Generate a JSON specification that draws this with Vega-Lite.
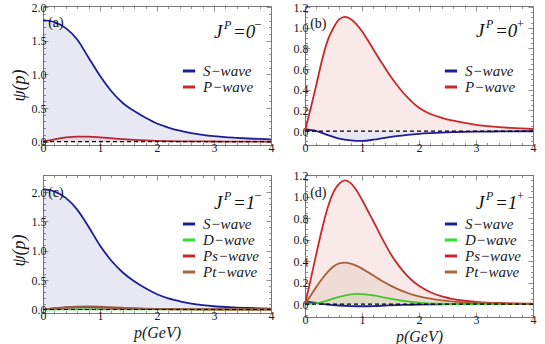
{
"$schema":"https://vega.github.io/schema/vega-lite/v6.json",
"padding":{"left":9,"top":0,"right":5,"bottom":0},
"columns":2,
"spacing":{"row":30,"column":34},
"bounds":"flush",
"resolve":{"scale":{"fill":"independent","stroke":"independent"},"legend":{"fill":"independent","stroke":"independent"}},
"datasets":{
"a":[
{"p":0,"psi":1.81,"wave":"S−wave"},{"p":0.2,"psi":1.78,"wave":"S−wave"},{"p":0.4,"psi":1.69,"wave":"S−wave"},{"p":0.6,"psi":1.52,"wave":"S−wave"},{"p":0.8,"psi":1.25,"wave":"S−wave"},{"p":1,"psi":0.98,"wave":"S−wave"},{"p":1.2,"psi":0.75,"wave":"S−wave"},{"p":1.4,"psi":0.575,"wave":"S−wave"},{"p":1.6,"psi":0.455,"wave":"S−wave"},{"p":1.8,"psi":0.355,"wave":"S−wave"},{"p":2,"psi":0.27,"wave":"S−wave"},{"p":2.2,"psi":0.21,"wave":"S−wave"},{"p":2.4,"psi":0.163,"wave":"S−wave"},{"p":2.6,"psi":0.128,"wave":"S−wave"},{"p":2.8,"psi":0.102,"wave":"S−wave"},{"p":3,"psi":0.082,"wave":"S−wave"},{"p":3.2,"psi":0.067,"wave":"S−wave"},{"p":3.4,"psi":0.056,"wave":"S−wave"},{"p":3.6,"psi":0.047,"wave":"S−wave"},{"p":3.8,"psi":0.04,"wave":"S−wave"},{"p":4,"psi":0.035,"wave":"S−wave"},
{"p":0,"psi":0,"wave":"P−wave"},{"p":0.2,"psi":0.035,"wave":"P−wave"},{"p":0.4,"psi":0.062,"wave":"P−wave"},{"p":0.6,"psi":0.076,"wave":"P−wave"},{"p":0.8,"psi":0.075,"wave":"P−wave"},{"p":1,"psi":0.065,"wave":"P−wave"},{"p":1.2,"psi":0.051,"wave":"P−wave"},{"p":1.4,"psi":0.037,"wave":"P−wave"},{"p":1.6,"psi":0.026,"wave":"P−wave"},{"p":1.8,"psi":0.018,"wave":"P−wave"},{"p":2,"psi":0.012,"wave":"P−wave"},{"p":2.2,"psi":0.008,"wave":"P−wave"},{"p":2.4,"psi":0.005,"wave":"P−wave"},{"p":2.6,"psi":0.0035,"wave":"P−wave"},{"p":2.8,"psi":0.0025,"wave":"P−wave"},{"p":3,"psi":0.0018,"wave":"P−wave"},{"p":3.2,"psi":0.0013,"wave":"P−wave"},{"p":3.4,"psi":0.001,"wave":"P−wave"},{"p":3.6,"psi":0.0007,"wave":"P−wave"},{"p":3.8,"psi":0.0005,"wave":"P−wave"},{"p":4,"psi":0.0004,"wave":"P−wave"}
],
"b":[
{"p":0,"psi":0.015,"wave":"S−wave"},{"p":0.2,"psi":0,"wave":"S−wave"},{"p":0.4,"psi":-0.04,"wave":"S−wave"},{"p":0.6,"psi":-0.073,"wave":"S−wave"},{"p":0.8,"psi":-0.09,"wave":"S−wave"},{"p":1,"psi":-0.095,"wave":"S−wave"},{"p":1.2,"psi":-0.084,"wave":"S−wave"},{"p":1.4,"psi":-0.066,"wave":"S−wave"},{"p":1.6,"psi":-0.05,"wave":"S−wave"},{"p":1.8,"psi":-0.037,"wave":"S−wave"},{"p":2,"psi":-0.027,"wave":"S−wave"},{"p":2.2,"psi":-0.02,"wave":"S−wave"},{"p":2.4,"psi":-0.015,"wave":"S−wave"},{"p":2.6,"psi":-0.011,"wave":"S−wave"},{"p":2.8,"psi":-0.008,"wave":"S−wave"},{"p":3,"psi":-0.006,"wave":"S−wave"},{"p":3.2,"psi":-0.005,"wave":"S−wave"},{"p":3.4,"psi":-0.004,"wave":"S−wave"},{"p":3.6,"psi":-0.003,"wave":"S−wave"},{"p":3.8,"psi":-0.002,"wave":"S−wave"},{"p":4,"psi":-0.002,"wave":"S−wave"},
{"p":0,"psi":0,"wave":"P−wave"},{"p":0.1,"psi":0.22,"wave":"P−wave"},{"p":0.2,"psi":0.45,"wave":"P−wave"},{"p":0.3,"psi":0.69,"wave":"P−wave"},{"p":0.4,"psi":0.88,"wave":"P−wave"},{"p":0.5,"psi":1.0,"wave":"P−wave"},{"p":0.6,"psi":1.08,"wave":"P−wave"},{"p":0.7,"psi":1.105,"wave":"P−wave"},{"p":0.8,"psi":1.085,"wave":"P−wave"},{"p":0.9,"psi":1.035,"wave":"P−wave"},{"p":1,"psi":0.965,"wave":"P−wave"},{"p":1.1,"psi":0.88,"wave":"P−wave"},{"p":1.2,"psi":0.79,"wave":"P−wave"},{"p":1.3,"psi":0.7,"wave":"P−wave"},{"p":1.4,"psi":0.615,"wave":"P−wave"},{"p":1.5,"psi":0.53,"wave":"P−wave"},{"p":1.6,"psi":0.455,"wave":"P−wave"},{"p":1.7,"psi":0.385,"wave":"P−wave"},{"p":1.8,"psi":0.325,"wave":"P−wave"},{"p":1.9,"psi":0.27,"wave":"P−wave"},{"p":2,"psi":0.225,"wave":"P−wave"},{"p":2.2,"psi":0.165,"wave":"P−wave"},{"p":2.4,"psi":0.128,"wave":"P−wave"},{"p":2.6,"psi":0.1,"wave":"P−wave"},{"p":2.8,"psi":0.078,"wave":"P−wave"},{"p":3,"psi":0.06,"wave":"P−wave"},{"p":3.2,"psi":0.048,"wave":"P−wave"},{"p":3.4,"psi":0.038,"wave":"P−wave"},{"p":3.6,"psi":0.031,"wave":"P−wave"},{"p":3.8,"psi":0.025,"wave":"P−wave"},{"p":4,"psi":0.02,"wave":"P−wave"}
],
"c":[
{"p":0,"psi":2.05,"wave":"S−wave"},{"p":0.2,"psi":2.01,"wave":"S−wave"},{"p":0.4,"psi":1.9,"wave":"S−wave"},{"p":0.6,"psi":1.7,"wave":"S−wave"},{"p":0.8,"psi":1.41,"wave":"S−wave"},{"p":1,"psi":1.09,"wave":"S−wave"},{"p":1.2,"psi":0.83,"wave":"S−wave"},{"p":1.4,"psi":0.63,"wave":"S−wave"},{"p":1.6,"psi":0.48,"wave":"S−wave"},{"p":1.8,"psi":0.36,"wave":"S−wave"},{"p":2,"psi":0.26,"wave":"S−wave"},{"p":2.2,"psi":0.19,"wave":"S−wave"},{"p":2.4,"psi":0.14,"wave":"S−wave"},{"p":2.6,"psi":0.1,"wave":"S−wave"},{"p":2.8,"psi":0.074,"wave":"S−wave"},{"p":3,"psi":0.055,"wave":"S−wave"},{"p":3.2,"psi":0.042,"wave":"S−wave"},{"p":3.4,"psi":0.032,"wave":"S−wave"},{"p":3.6,"psi":0.025,"wave":"S−wave"},{"p":3.8,"psi":0.019,"wave":"S−wave"},{"p":4,"psi":0.015,"wave":"S−wave"},
{"p":0,"psi":0,"wave":"D−wave"},{"p":0.4,"psi":0.001,"wave":"D−wave"},{"p":0.8,"psi":0.002,"wave":"D−wave"},{"p":1.2,"psi":0.002,"wave":"D−wave"},{"p":1.6,"psi":0.001,"wave":"D−wave"},{"p":2,"psi":0.0005,"wave":"D−wave"},{"p":3,"psi":0,"wave":"D−wave"},{"p":4,"psi":0,"wave":"D−wave"},
{"p":0,"psi":0,"wave":"Ps−wave"},{"p":0.2,"psi":0.018,"wave":"Ps−wave"},{"p":0.4,"psi":0.032,"wave":"Ps−wave"},{"p":0.6,"psi":0.04,"wave":"Ps−wave"},{"p":0.8,"psi":0.04,"wave":"Ps−wave"},{"p":1,"psi":0.035,"wave":"Ps−wave"},{"p":1.2,"psi":0.027,"wave":"Ps−wave"},{"p":1.4,"psi":0.02,"wave":"Ps−wave"},{"p":1.6,"psi":0.014,"wave":"Ps−wave"},{"p":1.8,"psi":0.009,"wave":"Ps−wave"},{"p":2,"psi":0.006,"wave":"Ps−wave"},{"p":2.4,"psi":0.003,"wave":"Ps−wave"},{"p":2.8,"psi":0.001,"wave":"Ps−wave"},{"p":3.4,"psi":0,"wave":"Ps−wave"},{"p":4,"psi":0,"wave":"Ps−wave"},
{"p":0,"psi":0,"wave":"Pt−wave"},{"p":0.2,"psi":0.022,"wave":"Pt−wave"},{"p":0.4,"psi":0.04,"wave":"Pt−wave"},{"p":0.6,"psi":0.05,"wave":"Pt−wave"},{"p":0.8,"psi":0.052,"wave":"Pt−wave"},{"p":1,"psi":0.047,"wave":"Pt−wave"},{"p":1.2,"psi":0.038,"wave":"Pt−wave"},{"p":1.4,"psi":0.029,"wave":"Pt−wave"},{"p":1.6,"psi":0.021,"wave":"Pt−wave"},{"p":1.8,"psi":0.015,"wave":"Pt−wave"},{"p":2,"psi":0.011,"wave":"Pt−wave"},{"p":2.4,"psi":0.006,"wave":"Pt−wave"},{"p":2.8,"psi":0.003,"wave":"Pt−wave"},{"p":3.2,"psi":0.0015,"wave":"Pt−wave"},{"p":3.6,"psi":0.001,"wave":"Pt−wave"},{"p":4,"psi":0.0005,"wave":"Pt−wave"}
],
"d":[
{"p":0,"psi":0.025,"wave":"S−wave"},{"p":0.2,"psi":0.01,"wave":"S−wave"},{"p":0.4,"psi":-0.004,"wave":"S−wave"},{"p":0.6,"psi":-0.013,"wave":"S−wave"},{"p":0.8,"psi":-0.018,"wave":"S−wave"},{"p":1,"psi":-0.02,"wave":"S−wave"},{"p":1.2,"psi":-0.018,"wave":"S−wave"},{"p":1.4,"psi":-0.014,"wave":"S−wave"},{"p":1.6,"psi":-0.01,"wave":"S−wave"},{"p":1.8,"psi":-0.007,"wave":"S−wave"},{"p":2,"psi":-0.004,"wave":"S−wave"},{"p":2.4,"psi":-0.002,"wave":"S−wave"},{"p":2.8,"psi":-0.001,"wave":"S−wave"},{"p":3.4,"psi":0,"wave":"S−wave"},{"p":4,"psi":0,"wave":"S−wave"},
{"p":0,"psi":0,"wave":"D−wave"},{"p":0.2,"psi":0.008,"wave":"D−wave"},{"p":0.4,"psi":0.035,"wave":"D−wave"},{"p":0.6,"psi":0.068,"wave":"D−wave"},{"p":0.8,"psi":0.09,"wave":"D−wave"},{"p":0.9,"psi":0.095,"wave":"D−wave"},{"p":1,"psi":0.093,"wave":"D−wave"},{"p":1.2,"psi":0.081,"wave":"D−wave"},{"p":1.4,"psi":0.061,"wave":"D−wave"},{"p":1.6,"psi":0.041,"wave":"D−wave"},{"p":1.8,"psi":0.025,"wave":"D−wave"},{"p":2,"psi":0.013,"wave":"D−wave"},{"p":2.2,"psi":0.006,"wave":"D−wave"},{"p":2.4,"psi":0.003,"wave":"D−wave"},{"p":2.6,"psi":0.001,"wave":"D−wave"},{"p":3,"psi":0,"wave":"D−wave"},{"p":4,"psi":0,"wave":"D−wave"},
{"p":0,"psi":0,"wave":"Ps−wave"},{"p":0.1,"psi":0.23,"wave":"Ps−wave"},{"p":0.2,"psi":0.47,"wave":"Ps−wave"},{"p":0.3,"psi":0.7,"wave":"Ps−wave"},{"p":0.4,"psi":0.9,"wave":"Ps−wave"},{"p":0.5,"psi":1.04,"wave":"Ps−wave"},{"p":0.6,"psi":1.12,"wave":"Ps−wave"},{"p":0.7,"psi":1.15,"wave":"Ps−wave"},{"p":0.8,"psi":1.125,"wave":"Ps−wave"},{"p":0.9,"psi":1.06,"wave":"Ps−wave"},{"p":1,"psi":0.97,"wave":"Ps−wave"},{"p":1.1,"psi":0.87,"wave":"Ps−wave"},{"p":1.2,"psi":0.77,"wave":"Ps−wave"},{"p":1.3,"psi":0.665,"wave":"Ps−wave"},{"p":1.4,"psi":0.565,"wave":"Ps−wave"},{"p":1.5,"psi":0.47,"wave":"Ps−wave"},{"p":1.6,"psi":0.39,"wave":"Ps−wave"},{"p":1.7,"psi":0.32,"wave":"Ps−wave"},{"p":1.8,"psi":0.26,"wave":"Ps−wave"},{"p":1.9,"psi":0.21,"wave":"Ps−wave"},{"p":2,"psi":0.17,"wave":"Ps−wave"},{"p":2.2,"psi":0.11,"wave":"Ps−wave"},{"p":2.4,"psi":0.072,"wave":"Ps−wave"},{"p":2.6,"psi":0.047,"wave":"Ps−wave"},{"p":2.8,"psi":0.031,"wave":"Ps−wave"},{"p":3,"psi":0.021,"wave":"Ps−wave"},{"p":3.2,"psi":0.014,"wave":"Ps−wave"},{"p":3.4,"psi":0.01,"wave":"Ps−wave"},{"p":3.6,"psi":0.007,"wave":"Ps−wave"},{"p":3.8,"psi":0.005,"wave":"Ps−wave"},{"p":4,"psi":0.004,"wave":"Ps−wave"},
{"p":0,"psi":0,"wave":"Pt−wave"},{"p":0.1,"psi":0.08,"wave":"Pt−wave"},{"p":0.2,"psi":0.16,"wave":"Pt−wave"},{"p":0.3,"psi":0.235,"wave":"Pt−wave"},{"p":0.4,"psi":0.3,"wave":"Pt−wave"},{"p":0.5,"psi":0.35,"wave":"Pt−wave"},{"p":0.6,"psi":0.378,"wave":"Pt−wave"},{"p":0.7,"psi":0.385,"wave":"Pt−wave"},{"p":0.8,"psi":0.377,"wave":"Pt−wave"},{"p":0.9,"psi":0.357,"wave":"Pt−wave"},{"p":1,"psi":0.33,"wave":"Pt−wave"},{"p":1.1,"psi":0.298,"wave":"Pt−wave"},{"p":1.2,"psi":0.265,"wave":"Pt−wave"},{"p":1.3,"psi":0.232,"wave":"Pt−wave"},{"p":1.4,"psi":0.2,"wave":"Pt−wave"},{"p":1.5,"psi":0.172,"wave":"Pt−wave"},{"p":1.6,"psi":0.146,"wave":"Pt−wave"},{"p":1.7,"psi":0.123,"wave":"Pt−wave"},{"p":1.8,"psi":0.103,"wave":"Pt−wave"},{"p":1.9,"psi":0.086,"wave":"Pt−wave"},{"p":2,"psi":0.072,"wave":"Pt−wave"},{"p":2.2,"psi":0.05,"wave":"Pt−wave"},{"p":2.4,"psi":0.034,"wave":"Pt−wave"},{"p":2.6,"psi":0.023,"wave":"Pt−wave"},{"p":2.8,"psi":0.016,"wave":"Pt−wave"},{"p":3,"psi":0.011,"wave":"Pt−wave"},{"p":3.2,"psi":0.008,"wave":"Pt−wave"},{"p":3.4,"psi":0.006,"wave":"Pt−wave"},{"p":3.6,"psi":0.004,"wave":"Pt−wave"},{"p":3.8,"psi":0.003,"wave":"Pt−wave"},{"p":4,"psi":0.002,"wave":"Pt−wave"}
]
},
"concat":[
{
"width":228,"height":139,
"data":{"name":"a"},
"layer":[
{"mark":{"type":"line","strokeWidth":1.8,"interpolate":"monotone"},
"encoding":{
"x":{"field":"p","type":"quantitative","scale":{"domain":[0,4],"nice":false},"axis":{"orient":"bottom","title":null,"values":[0,0.2,0.4,0.6,0.8,1,1.2,1.4,1.6,1.8,2,2.2,2.4,2.6,2.8,3,3.2,3.4,3.6,3.8,4],"labelExpr":"datum.value % 1 === 0 ? format(datum.value,'d') : ''","tickSize":{"condition":{"test":"datum.value % 1 === 0","value":-5},"value":-2.5},"labelPadding":2}},
"y":{"field":"psi","type":"quantitative","scale":{"domain":[-0.05,2.02],"nice":false,"zero":false},"axis":{"orient":"left","title":"ψ(p)","titlePadding":3,"titleFontSize":18,"titleY":79,"values":[0,0.1,0.2,0.3,0.4,0.5,0.6,0.7,0.8,0.9,1,1.1,1.2,1.3,1.4,1.5,1.6,1.7,1.8,1.9,2],"labelExpr":"abs(datum.value*2-round(datum.value*2))<0.001 ? format(datum.value,'.1f') : ''","tickSize":{"condition":{"test":"abs(datum.value*2-round(datum.value*2))<0.001","value":-5},"value":-2.5},"labelPadding":2}},
"stroke":{"field":"wave","type":"nominal","scale":{"domain":["S−wave","P−wave"],"range":["#1e1e96","#c62b2b"]},"legend":{"orient":"none","legendX":138,"legendY":57,"title":null}}}},
{"mark":{"type":"area","fillOpacity":0.1,"interpolate":"monotone"},
"encoding":{"x":{"field":"p","type":"quantitative","axis":null},"y":{"field":"psi","type":"quantitative","axis":null},"y2":{"datum":0},
"fill":{"field":"wave","type":"nominal","scale":{"domain":["S−wave","P−wave"],"range":["#1e1e96","#c62b2b"]},"legend":null}}},
{"mark":{"type":"point","opacity":0},
"encoding":{"x":{"field":"p","type":"quantitative","axis":{"orient":"top","title":null,"labels":false,"values":[0,0.2,0.4,0.6,0.8,1,1.2,1.4,1.6,1.8,2,2.2,2.4,2.6,2.8,3,3.2,3.4,3.6,3.8,4],"tickSize":{"condition":{"test":"datum.value % 1 === 0","value":-5},"value":-2.5}}},
"y":{"field":"psi","type":"quantitative","axis":{"orient":"right","title":null,"labels":false,"values":[0,0.1,0.2,0.3,0.4,0.5,0.6,0.7,0.8,0.9,1,1.1,1.2,1.3,1.4,1.5,1.6,1.7,1.8,1.9,2],"tickSize":{"condition":{"test":"abs(datum.value*2-round(datum.value*2))<0.001","value":-5},"value":-2.5}}}}},
{"data":{"values":[{}]},"mark":{"type":"rule","strokeDash":[4,3],"color":"#000","strokeWidth":1.2},"encoding":{"y":{"datum":0,"type":"quantitative","axis":null}}},
{"data":{"values":[{}]},"mark":{"type":"text","font":"Liberation Serif","fontSize":14,"align":"left","color":"#111"},"encoding":{"x":{"datum":0.09,"type":"quantitative","axis":null},"y":{"datum":1.77,"type":"quantitative","axis":null},"text":{"value":"(a)"}}},
{"data":{"values":[{}]},"mark":{"type":"text","font":"Liberation Serif","fontStyle":"italic","fontSize":19,"align":"left","color":"#111"},"encoding":{"x":{"datum":3.0,"type":"quantitative","axis":null},"y":{"datum":1.64,"type":"quantitative","axis":null},"text":{"value":"J"}}},
{"data":{"values":[{}]},"mark":{"type":"text","font":"Liberation Serif","fontStyle":"italic","fontSize":12,"align":"left","dx":10,"dy":-7,"color":"#111"},"encoding":{"x":{"datum":3.0,"type":"quantitative","axis":null},"y":{"datum":1.64,"type":"quantitative","axis":null},"text":{"value":"P"}}},
{"data":{"values":[{}]},"mark":{"type":"text","font":"Liberation Serif","fontStyle":"italic","fontSize":19,"align":"left","dx":19,"color":"#111"},"encoding":{"x":{"datum":3.0,"type":"quantitative","axis":null},"y":{"datum":1.64,"type":"quantitative","axis":null},"text":{"value":"=0"}}},
{"data":{"values":[{}]},"mark":{"type":"text","font":"Liberation Serif","fontSize":13,"align":"left","dx":40,"dy":-7,"color":"#111"},"encoding":{"x":{"datum":3.0,"type":"quantitative","axis":null},"y":{"datum":1.64,"type":"quantitative","axis":null},"text":{"value":"−"}}}
],
"resolve":{"axis":{"x":"independent","y":"independent"}}
},
{
"width":228,"height":139,
"data":{"name":"b"},
"layer":[
{"mark":{"type":"line","strokeWidth":1.8,"interpolate":"monotone"},
"encoding":{
"x":{"field":"p","type":"quantitative","scale":{"domain":[0,4],"nice":false},"axis":{"orient":"bottom","title":null,"values":[0,0.2,0.4,0.6,0.8,1,1.2,1.4,1.6,1.8,2,2.2,2.4,2.6,2.8,3,3.2,3.4,3.6,3.8,4],"labelExpr":"datum.value % 1 === 0 ? format(datum.value,'d') : ''","tickSize":{"condition":{"test":"datum.value % 1 === 0","value":-5},"value":-2.5},"labelPadding":2}},
"y":{"field":"psi","type":"quantitative","scale":{"domain":[-0.135,1.21],"nice":false,"zero":false},"axis":{"orient":"left","title":null,"values":[-0.1,-0.05,0,0.05,0.1,0.15,0.2,0.25,0.3,0.35,0.4,0.45,0.5,0.55,0.6,0.65,0.7,0.75,0.8,0.85,0.9,0.95,1,1.05,1.1,1.15,1.2],"labelExpr":"abs(datum.value*5-round(datum.value*5))<0.001 && datum.value>=0 ? format(datum.value,'.1f') : ''","tickSize":{"condition":{"test":"abs(datum.value*5-round(datum.value*5))<0.001","value":-5},"value":-2.5},"labelPadding":2}},
"stroke":{"field":"wave","type":"nominal","scale":{"domain":["S−wave","P−wave"],"range":["#1e1e96","#c62b2b"]},"legend":{"orient":"none","legendX":138,"legendY":57,"title":null}}}},
{"mark":{"type":"area","fillOpacity":0.1,"interpolate":"monotone"},
"encoding":{"x":{"field":"p","type":"quantitative","axis":null},"y":{"field":"psi","type":"quantitative","axis":null},"y2":{"datum":0},
"fill":{"field":"wave","type":"nominal","scale":{"domain":["S−wave","P−wave"],"range":["#1e1e96","#c62b2b"]},"legend":null}}},
{"mark":{"type":"point","opacity":0},
"encoding":{"x":{"field":"p","type":"quantitative","axis":{"orient":"top","title":null,"labels":false,"values":[0,0.2,0.4,0.6,0.8,1,1.2,1.4,1.6,1.8,2,2.2,2.4,2.6,2.8,3,3.2,3.4,3.6,3.8,4],"tickSize":{"condition":{"test":"datum.value % 1 === 0","value":-5},"value":-2.5}}},
"y":{"field":"psi","type":"quantitative","axis":{"orient":"right","title":null,"labels":false,"values":[-0.1,-0.05,0,0.05,0.1,0.15,0.2,0.25,0.3,0.35,0.4,0.45,0.5,0.55,0.6,0.65,0.7,0.75,0.8,0.85,0.9,0.95,1,1.05,1.1,1.15,1.2],"tickSize":{"condition":{"test":"abs(datum.value*5-round(datum.value*5))<0.001","value":-5},"value":-2.5}}}}},
{"data":{"values":[{}]},"mark":{"type":"rule","strokeDash":[4,3],"color":"#000","strokeWidth":1.2},"encoding":{"y":{"datum":0,"type":"quantitative","axis":null}}},
{"data":{"values":[{}]},"mark":{"type":"text","font":"Liberation Serif","fontSize":14,"align":"left","color":"#111"},"encoding":{"x":{"datum":0.09,"type":"quantitative","axis":null},"y":{"datum":1.04,"type":"quantitative","axis":null},"text":{"value":"(b)"}}},
{"data":{"values":[{}]},"mark":{"type":"text","font":"Liberation Serif","fontStyle":"italic","fontSize":19,"align":"left","color":"#111"},"encoding":{"x":{"datum":3.0,"type":"quantitative","axis":null},"y":{"datum":0.968,"type":"quantitative","axis":null},"text":{"value":"J"}}},
{"data":{"values":[{}]},"mark":{"type":"text","font":"Liberation Serif","fontStyle":"italic","fontSize":12,"align":"left","dx":10,"dy":-7,"color":"#111"},"encoding":{"x":{"datum":3.0,"type":"quantitative","axis":null},"y":{"datum":0.968,"type":"quantitative","axis":null},"text":{"value":"P"}}},
{"data":{"values":[{}]},"mark":{"type":"text","font":"Liberation Serif","fontStyle":"italic","fontSize":19,"align":"left","dx":19,"color":"#111"},"encoding":{"x":{"datum":3.0,"type":"quantitative","axis":null},"y":{"datum":0.968,"type":"quantitative","axis":null},"text":{"value":"=0"}}},
{"data":{"values":[{}]},"mark":{"type":"text","font":"Liberation Serif","fontSize":12,"align":"left","dx":41,"dy":-7,"color":"#111"},"encoding":{"x":{"datum":3.0,"type":"quantitative","axis":null},"y":{"datum":0.968,"type":"quantitative","axis":null},"text":{"value":"+"}}}
],
"resolve":{"axis":{"x":"independent","y":"independent"}}
},
{
"width":228,"height":138,
"data":{"name":"c"},
"layer":[
{"mark":{"type":"line","strokeWidth":1.8,"interpolate":"monotone"},
"encoding":{
"x":{"field":"p","type":"quantitative","scale":{"domain":[0,4],"nice":false},"axis":{"orient":"bottom","title":"p(GeV)","titlePadding":1,"values":[0,0.2,0.4,0.6,0.8,1,1.2,1.4,1.6,1.8,2,2.2,2.4,2.6,2.8,3,3.2,3.4,3.6,3.8,4],"labelExpr":"datum.value % 1 === 0 ? format(datum.value,'d') : ''","tickSize":{"condition":{"test":"datum.value % 1 === 0","value":-5},"value":-2.5},"labelPadding":2}},
"y":{"field":"psi","type":"quantitative","scale":{"domain":[-0.06,2.29],"nice":false,"zero":false},"axis":{"orient":"left","title":"ψ(p)","titlePadding":3,"titleFontSize":18,"titleY":75,"values":[0,0.1,0.2,0.3,0.4,0.5,0.6,0.7,0.8,0.9,1,1.1,1.2,1.3,1.4,1.5,1.6,1.7,1.8,1.9,2,2.1,2.2],"labelExpr":"abs(datum.value*2-round(datum.value*2))<0.001 ? format(datum.value,'.1f') : ''","tickSize":{"condition":{"test":"abs(datum.value*2-round(datum.value*2))<0.001","value":-5},"value":-2.5},"labelPadding":2}},
"stroke":{"field":"wave","type":"nominal","scale":{"domain":["S−wave","D−wave","Ps−wave","Pt−wave"],"range":["#1e1e96","#2fe02f","#c62b2b","#a4683a"]},"legend":{"orient":"none","legendX":138,"legendY":41,"title":null}}}},
{"mark":{"type":"area","fillOpacity":0.1,"interpolate":"monotone"},
"encoding":{"x":{"field":"p","type":"quantitative","axis":null},"y":{"field":"psi","type":"quantitative","axis":null},"y2":{"datum":0},
"fill":{"field":"wave","type":"nominal","scale":{"domain":["S−wave","D−wave","Ps−wave","Pt−wave"],"range":["#1e1e96","#2fe02f","#c62b2b","#a4683a"]},"legend":null}}},
{"mark":{"type":"point","opacity":0},
"encoding":{"x":{"field":"p","type":"quantitative","axis":{"orient":"top","title":null,"labels":false,"values":[0,0.2,0.4,0.6,0.8,1,1.2,1.4,1.6,1.8,2,2.2,2.4,2.6,2.8,3,3.2,3.4,3.6,3.8,4],"tickSize":{"condition":{"test":"datum.value % 1 === 0","value":-5},"value":-2.5}}},
"y":{"field":"psi","type":"quantitative","axis":{"orient":"right","title":null,"labels":false,"values":[0,0.1,0.2,0.3,0.4,0.5,0.6,0.7,0.8,0.9,1,1.1,1.2,1.3,1.4,1.5,1.6,1.7,1.8,1.9,2,2.1,2.2],"tickSize":{"condition":{"test":"abs(datum.value*2-round(datum.value*2))<0.001","value":-5},"value":-2.5}}}}},
{"data":{"values":[{}]},"mark":{"type":"rule","strokeDash":[4,3],"color":"#000","strokeWidth":1.2},"encoding":{"y":{"datum":0,"type":"quantitative","axis":null}}},
{"data":{"values":[{}]},"mark":{"type":"text","font":"Liberation Serif","fontSize":14,"align":"left","color":"#111"},"encoding":{"x":{"datum":0.09,"type":"quantitative","axis":null},"y":{"datum":1.975,"type":"quantitative","axis":null},"text":{"value":"(c)"}}},
{"data":{"values":[{}]},"mark":{"type":"text","font":"Liberation Serif","fontStyle":"italic","fontSize":19,"align":"left","color":"#111"},"encoding":{"x":{"datum":3.0,"type":"quantitative","axis":null},"y":{"datum":1.82,"type":"quantitative","axis":null},"text":{"value":"J"}}},
{"data":{"values":[{}]},"mark":{"type":"text","font":"Liberation Serif","fontStyle":"italic","fontSize":12,"align":"left","dx":10,"dy":-7,"color":"#111"},"encoding":{"x":{"datum":3.0,"type":"quantitative","axis":null},"y":{"datum":1.82,"type":"quantitative","axis":null},"text":{"value":"P"}}},
{"data":{"values":[{}]},"mark":{"type":"text","font":"Liberation Serif","fontStyle":"italic","fontSize":19,"align":"left","dx":19,"color":"#111"},"encoding":{"x":{"datum":3.0,"type":"quantitative","axis":null},"y":{"datum":1.82,"type":"quantitative","axis":null},"text":{"value":"=1"}}},
{"data":{"values":[{}]},"mark":{"type":"text","font":"Liberation Serif","fontSize":13,"align":"left","dx":40,"dy":-7,"color":"#111"},"encoding":{"x":{"datum":3.0,"type":"quantitative","axis":null},"y":{"datum":1.82,"type":"quantitative","axis":null},"text":{"value":"−"}}}
],
"resolve":{"axis":{"x":"independent","y":"independent"}}
},
{
"width":228,"height":142,
"data":{"name":"d"},
"layer":[
{"mark":{"type":"line","strokeWidth":1.8,"interpolate":"monotone"},
"encoding":{"x":{"field":"p","type":"quantitative","scale":{"domain":[0,4],"nice":false},"axis":{"orient":"bottom","title":"p(GeV)","titlePadding":1,"values":[0,0.2,0.4,0.6,0.8,1,1.2,1.4,1.6,1.8,2,2.2,2.4,2.6,2.8,3,3.2,3.4,3.6,3.8,4],"labelExpr":"datum.value % 1 === 0 ? format(datum.value,'d') : ''","tickSize":{"condition":{"test":"datum.value % 1 === 0","value":-5},"value":-2.5},"labelPadding":2}},
"y":{"field":"psi","type":"quantitative","scale":{"domain":[-0.12,1.2],"nice":false,"zero":false},"axis":{"orient":"left","title":null,"values":[-0.1,-0.05,0,0.05,0.1,0.15,0.2,0.25,0.3,0.35,0.4,0.45,0.5,0.55,0.6,0.65,0.7,0.75,0.8,0.85,0.9,0.95,1,1.05,1.1,1.15,1.2],"labelExpr":"abs(datum.value*5-round(datum.value*5))<0.001 && datum.value>=0 ? format(datum.value,'.1f') : ''","tickSize":{"condition":{"test":"abs(datum.value*5-round(datum.value*5))<0.001","value":-5},"value":-2.5},"labelPadding":2}},
"stroke":{"field":"wave","type":"nominal","scale":{"domain":["S−wave","D−wave","Ps−wave","Pt−wave"],"range":["#1e1e96","#2fe02f","#c62b2b","#a4683a"]},"legend":{"orient":"none","legendX":138,"legendY":41,"title":null}}}},
{"mark":{"type":"area","fillOpacity":0.1,"interpolate":"monotone"},
"encoding":{"x":{"field":"p","type":"quantitative","axis":null},"y":{"field":"psi","type":"quantitative","axis":null},"y2":{"datum":0},
"fill":{"field":"wave","type":"nominal","scale":{"domain":["S−wave","D−wave","Ps−wave","Pt−wave"],"range":["#1e1e96","#2fe02f","#c62b2b","#a4683a"]},"legend":null}}},
{"mark":{"type":"point","opacity":0},
"encoding":{"x":{"field":"p","type":"quantitative","axis":{"orient":"top","title":null,"labels":false,"values":[0,0.2,0.4,0.6,0.8,1,1.2,1.4,1.6,1.8,2,2.2,2.4,2.6,2.8,3,3.2,3.4,3.6,3.8,4],"tickSize":{"condition":{"test":"datum.value % 1 === 0","value":-5},"value":-2.5}}},
"y":{"field":"psi","type":"quantitative","axis":{"orient":"right","title":null,"labels":false,"values":[-0.1,-0.05,0,0.05,0.1,0.15,0.2,0.25,0.3,0.35,0.4,0.45,0.5,0.55,0.6,0.65,0.7,0.75,0.8,0.85,0.9,0.95,1,1.05,1.1,1.15,1.2],"tickSize":{"condition":{"test":"abs(datum.value*5-round(datum.value*5))<0.001","value":-5},"value":-2.5}}}}},
{"data":{"values":[{}]},"mark":{"type":"rule","strokeDash":[4,3],"color":"#000","strokeWidth":1.2},"encoding":{"y":{"datum":0,"type":"quantitative","axis":null}}},
{"data":{"values":[{}]},"mark":{"type":"text","font":"Liberation Serif","fontSize":14,"align":"left","color":"#111"},"encoding":{"x":{"datum":0.09,"type":"quantitative","axis":null},"y":{"datum":1.03,"type":"quantitative","axis":null},"text":{"value":"(d)"}}},
{"data":{"values":[{}]},"mark":{"type":"text","font":"Liberation Serif","fontStyle":"italic","fontSize":19,"align":"left","color":"#111"},"encoding":{"x":{"datum":3.0,"type":"quantitative","axis":null},"y":{"datum":0.94,"type":"quantitative","axis":null},"text":{"value":"J"}}},
{"data":{"values":[{}]},"mark":{"type":"text","font":"Liberation Serif","fontStyle":"italic","fontSize":12,"align":"left","dx":10,"dy":-7,"color":"#111"},"encoding":{"x":{"datum":3.0,"type":"quantitative","axis":null},"y":{"datum":0.94,"type":"quantitative","axis":null},"text":{"value":"P"}}},
{"data":{"values":[{}]},"mark":{"type":"text","font":"Liberation Serif","fontStyle":"italic","fontSize":19,"align":"left","dx":19,"color":"#111"},"encoding":{"x":{"datum":3.0,"type":"quantitative","axis":null},"y":{"datum":0.94,"type":"quantitative","axis":null},"text":{"value":"=1"}}},
{"data":{"values":[{}]},"mark":{"type":"text","font":"Liberation Serif","fontSize":12,"align":"left","dx":41,"dy":-7,"color":"#111"},"encoding":{"x":{"datum":3.0,"type":"quantitative","axis":null},"y":{"datum":0.94,"type":"quantitative","axis":null},"text":{"value":"+"}}}
],
"resolve":{"axis":{"x":"independent","y":"independent"}}
}
],
"config":{
"view":{"stroke":"#777","strokeWidth":1},
"font":"Liberation Serif",
"axis":{"labelFont":"Liberation Serif","labelFontSize":12,"labelColor":"#1a1a1a","titleFont":"Liberation Serif","titleFontSize":16,"titleFontStyle":"italic","titleFontWeight":"normal","titleColor":"#1a1a1a","grid":false,"domain":false,"tickColor":"#777","tickWidth":0.8,"labelFlush":false,"labelOverlap":false},
"legend":{"labelFont":"Liberation Serif","labelFontStyle":"italic","labelFontSize":15,"labelColor":"#1a1a1a","symbolType":"stroke","symbolStrokeWidth":3,"symbolSize":150,"rowPadding":-3,"labelOffset":6}
}
}
